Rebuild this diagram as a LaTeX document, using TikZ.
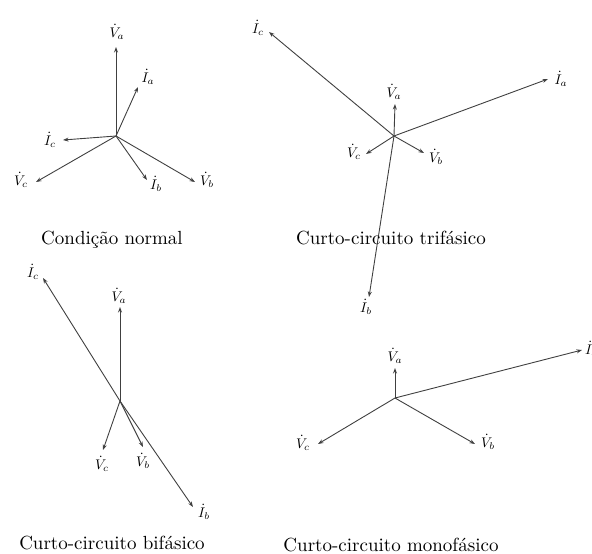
\documentclass[tikz,border=0pt]{standalone}
\usetikzlibrary{arrows.meta}
\newcommand{\lbt}[1]{\scalebox{1.4}{$#1$}}
\newcommand{\cpt}[1]{\scalebox{1.9}{#1}}
\begin{document}
\begin{tikzpicture}[x=1pt,y=-1pt,
  vec/.style={draw=black!75, line width=0.9pt, -{Stealth[length=5.5pt,width=4pt]}},
  lbl/.style={inner sep=0pt},
  captext/.style={inner sep=0pt}]
\useasboundingbox (0,0) rectangle (592,554);

% ---------- Panel 1: Condicao normal
\coordinate (o1) at (116,136);
\coordinate (o1va) at (116,47);
\coordinate (o1ia) at (138,87);
\coordinate (o1ic) at (63,140);
\coordinate (o1vc) at (36,182);
\coordinate (o1ib) at (147,180);
\coordinate (o1vb) at (195,182);
\draw[vec] (o1) -- (o1va);
\draw[vec] (o1) -- (o1ia);
\draw[vec] (o1) -- (o1ic);
\draw[vec] (o1) -- (o1vc);
\draw[vec] (o1) -- (o1ib);
\draw[vec] (o1) -- (o1vb);
\node[lbl] (l1va) at (117,32) {\lbt{\dot{V}_a}};
\node[lbl] (l1ia) at (148,77) {\lbt{\dot{I}_a}};
\node[lbl] (l1ic) at (50,140) {\lbt{\dot{I}_c}};
\node[lbl] (l1vc) at (21,180) {\lbt{\dot{V}_c}};
\node[lbl] (l1ib) at (156,184) {\lbt{\dot{I}_b}};
\node[lbl] (l1vb) at (207,180) {\lbt{\dot{V}_b}};
\node[captext] (c1) at (112,240) {\cpt{Condição normal}};

% ---------- Panel 2: Curto-circuito trifasico
\coordinate (o2) at (394,136);
\coordinate (o2ic) at (269,32);
\coordinate (o2ia) at (548,79);
\coordinate (o2va) at (395,104);
\coordinate (o2vc) at (366,154);
\coordinate (o2vb) at (424,153);
\coordinate (o2ib) at (369,297);
\draw[vec] (o2) -- (o2ic);
\draw[vec] (o2) -- (o2ia);
\draw[vec] (o2) -- (o2va);
\draw[vec] (o2) -- (o2vc);
\draw[vec] (o2) -- (o2vb);
\draw[vec] (o2) -- (o2ib);
\node[lbl] (l2ic) at (258,28) {\lbt{\dot{I}_c}};
\node[lbl] (l2ia) at (561,79) {\lbt{\dot{I}_a}};
\node[lbl] (l2va) at (394,92) {\lbt{\dot{V}_a}};
\node[lbl] (l2vc) at (354,152) {\lbt{\dot{V}_c}};
\node[lbl] (l2vb) at (436,157) {\lbt{\dot{V}_b}};
\node[lbl] (l2ib) at (366,307) {\lbt{\dot{I}_b}};
\node[captext] (c2) at (391,238) {\cpt{Curto-circuito trifásico}};

% ---------- Panel 3: Curto-circuito bifasico
\coordinate (o3) at (120,401);
\coordinate (o3va) at (120,307);
\coordinate (o3ic) at (43,278);
\coordinate (o3ib) at (193,507);
\coordinate (o3vc) at (103,450);
\coordinate (o3vb) at (143,447);
\draw[vec] (o3) -- (o3va);
\draw[vec] (o3) -- (o3ic);
\draw[vec] (o3) -- (o3ib);
\draw[vec] (o3) -- (o3vc);
\draw[vec] (o3) -- (o3vb);
\node[lbl] (l3va) at (119,296) {\lbt{\dot{V}_a}};
\node[lbl] (l3ic) at (33,272) {\lbt{\dot{I}_c}};
\node[lbl] (l3ib) at (204,512) {\lbt{\dot{I}_b}};
\node[lbl] (l3vc) at (102,464) {\lbt{\dot{V}_c}};
\node[lbl] (l3vb) at (143,461) {\lbt{\dot{V}_b}};
\node[captext] (c3) at (112,543) {\cpt{Curto-circuito bifásico}};

% ---------- Panel 4: Curto-circuito monofasico
\coordinate (o4) at (395,398);
\coordinate (o4va) at (395,368);
\coordinate (o4ia) at (582,350);
\coordinate (o4vc) at (318,444);
\coordinate (o4vb) at (475,444);
\draw[vec] (o4) -- (o4va);
\draw[vec] (o4) -- (o4ia);
\draw[vec] (o4) -- (o4vc);
\draw[vec] (o4) -- (o4vb);
\node[lbl] (l4va) at (395,356) {\lbt{\dot{V}_a}};
\node[lbl,anchor=west] (l4ia) at (585,349) {\lbt{\dot{I}_a}};
\node[lbl] (l4vc) at (303,443) {\lbt{\dot{V}_c}};
\node[lbl] (l4vb) at (488,442) {\lbt{\dot{V}_b}};
\node[captext] (c4) at (391,545) {\cpt{Curto-circuito monofásico}};
\end{tikzpicture}
\end{document}
